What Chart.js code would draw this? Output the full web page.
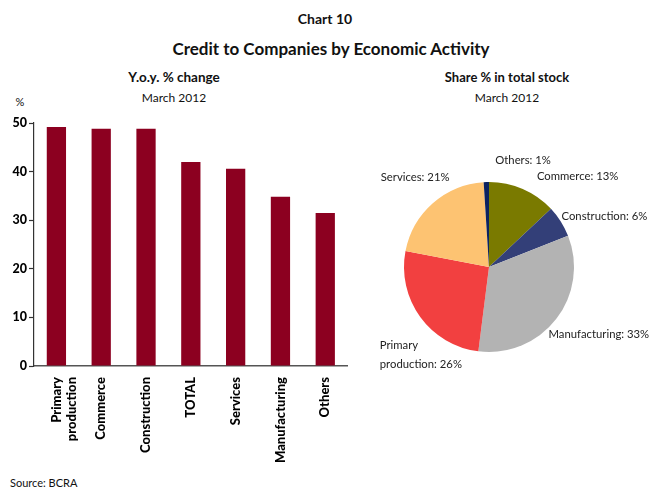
<!DOCTYPE html>
<html>
<head>
<meta charset="utf-8">
<script src="https://cdn.jsdelivr.net/npm/chart.js@4/dist/chart.umd.min.js"></script>
<style>
  body { margin: 0; background: #fff; font-family: Lato, "DejaVu Sans", sans-serif; color: #111; }
  #page { position: relative; width: 651px; height: 487px; overflow: hidden; }
  .t { position: absolute; white-space: nowrap; transform: translate(-50%, -50%); }
  .bold { font-weight: bold; }
  canvas { position: absolute; }
</style>
</head>
<body>
<div id="page">
  <div class="t bold" style="left:325px;top:18px;font-size:14px">Chart 10</div>
  <div class="t bold" style="left:331px;top:48px;font-size:17px">Credit to Companies by Economic Activity</div>
  <div class="t bold" style="left:174px;top:77px;font-size:13.5px">Y.o.y. % change</div>
  <div class="t" style="left:174px;top:97px;font-size:12px">March 2012</div>
  <div class="t" style="left:20px;top:101px;font-size:11px">%</div>
  <div class="t bold" style="left:507px;top:77px;font-size:13px">Share % in total stock</div>
  <div class="t" style="left:507px;top:97px;font-size:12px">March 2012</div>
  <div class="t" style="left:10px;top:482px;font-size:11px;transform:translate(0,-50%)">Source: BCRA</div>
  <canvas id="bars" width="352" height="380" style="left:0;top:100px"></canvas>
  <canvas id="pie" width="281" height="260" style="left:370px;top:130px"></canvas>
</div>
<script>
// y.o.y. change by activity
const barLabels = [["Primary", "production"], "Commerce", "Construction", "TOTAL", "Services", "Manufacturing", "Others"];
const barValues = [49.2, 48.8, 48.8, 42.0, 40.6, 34.8, 31.5];
const yTicks = [0, 10, 20, 30, 40, 50];

// share in total stock, clockwise from 12 o'clock
const pieLabels = ["Commerce", "Construction", "Manufacturing", ["Primary", "production"], "Services", "Others"];
const pieValues = [13, 6, 33, 26, 21, 1];
const pieColors = ["#7a7a00", "#333f78", "#b3b3b3", "#f24040", "#fdc372", "#0c2260"];

// label placement tweaks around the pie: [dx, dy, align]
const labelNudge = [[11, -5, "left"], [-6, -1, "left"], [-14, 10, "left"], [-34, 33, "left"], [22, -20, "right"], [37, -14, "center"]];

Chart.defaults.font.family = "Lato";
Chart.defaults.color = "#111";

// writes the slice names with their shares outside the pie
const sliceLabels = {
  id: "sliceLabels",
  afterDraw(chart) {
    const ctx = chart.ctx;
    const meta = chart.getDatasetMeta(0);
    ctx.save();
    ctx.font = "11.3px Lato";
    ctx.fillStyle = "#222";
    ctx.textBaseline = "middle";
    meta.data.forEach((arc, i) => {
      const p = arc.getProps(["x", "y", "startAngle", "endAngle", "outerRadius"]);
      const mid = (p.startAngle + p.endAngle) / 2;
      const r = p.outerRadius + 8;
      const [dx, dy, align] = labelNudge[i];
      const x = p.x + Math.cos(mid) * r + dx;
      const y = p.y + Math.sin(mid) * r + dy;
      const name = pieLabels[i];
      const lines = Array.isArray(name) ? name.slice() : [name];
      lines[lines.length - 1] += ": " + pieValues[i] + "%";
      ctx.textAlign = align;
      const lh = 19;
      lines.forEach((ln, k) => {
        ctx.fillText(ln, x, y + (k - (lines.length - 1) / 2) * lh);
      });
    });
    ctx.restore();
  }
};

new Chart(document.getElementById("bars"), {
  type: "bar",
  data: {
    labels: barLabels,
    datasets: [{ data: barValues, backgroundColor: "#8c0020", categoryPercentage: 1, barPercentage: 0.43 }]
  },
  options: {
    responsive: false,
    animation: false,
    layout: { padding: { top: 23, right: 2, left: 0, bottom: 0 } },
    plugins: { legend: { display: false }, tooltip: { enabled: false } },
    scales: {
      x: {
        grid: { display: false, drawTicks: false },
        border: { display: true, color: "#555", width: 1.5 },
        ticks: { minRotation: 90, maxRotation: 90, padding: 11, font: { family: "Lato", size: 13, weight: 900 }, color: "#000" },
        afterFit: s => { s.height = 114; }
      },
      y: {
        min: 0,
        max: 50,
        afterBuildTicks: s => { s.ticks = yTicks.map(v => ({ value: v })); },
        grid: { drawOnChartArea: false, drawTicks: true, tickLength: 5, color: "#333", tickWidth: 1.2 },
        border: { display: true, color: "#333", width: 1.2 },
        ticks: { padding: 2, font: { family: "Lato", size: 12.5, weight: 900 }, color: "#000" },
        afterFit: s => { s.width = 34; }
      }
    }
  }
});

new Chart(document.getElementById("pie"), {
  type: "pie",
  data: {
    labels: pieLabels,
    datasets: [{ data: pieValues, backgroundColor: pieColors, borderWidth: 0 }]
  },
  options: {
    responsive: false,
    animation: false,
    layout: { padding: { left: 34, right: 77, top: 52, bottom: 38 } },
    plugins: { legend: { display: false }, tooltip: { enabled: false } }
  },
  plugins: [sliceLabels]
});
</script>
</body>
</html>
